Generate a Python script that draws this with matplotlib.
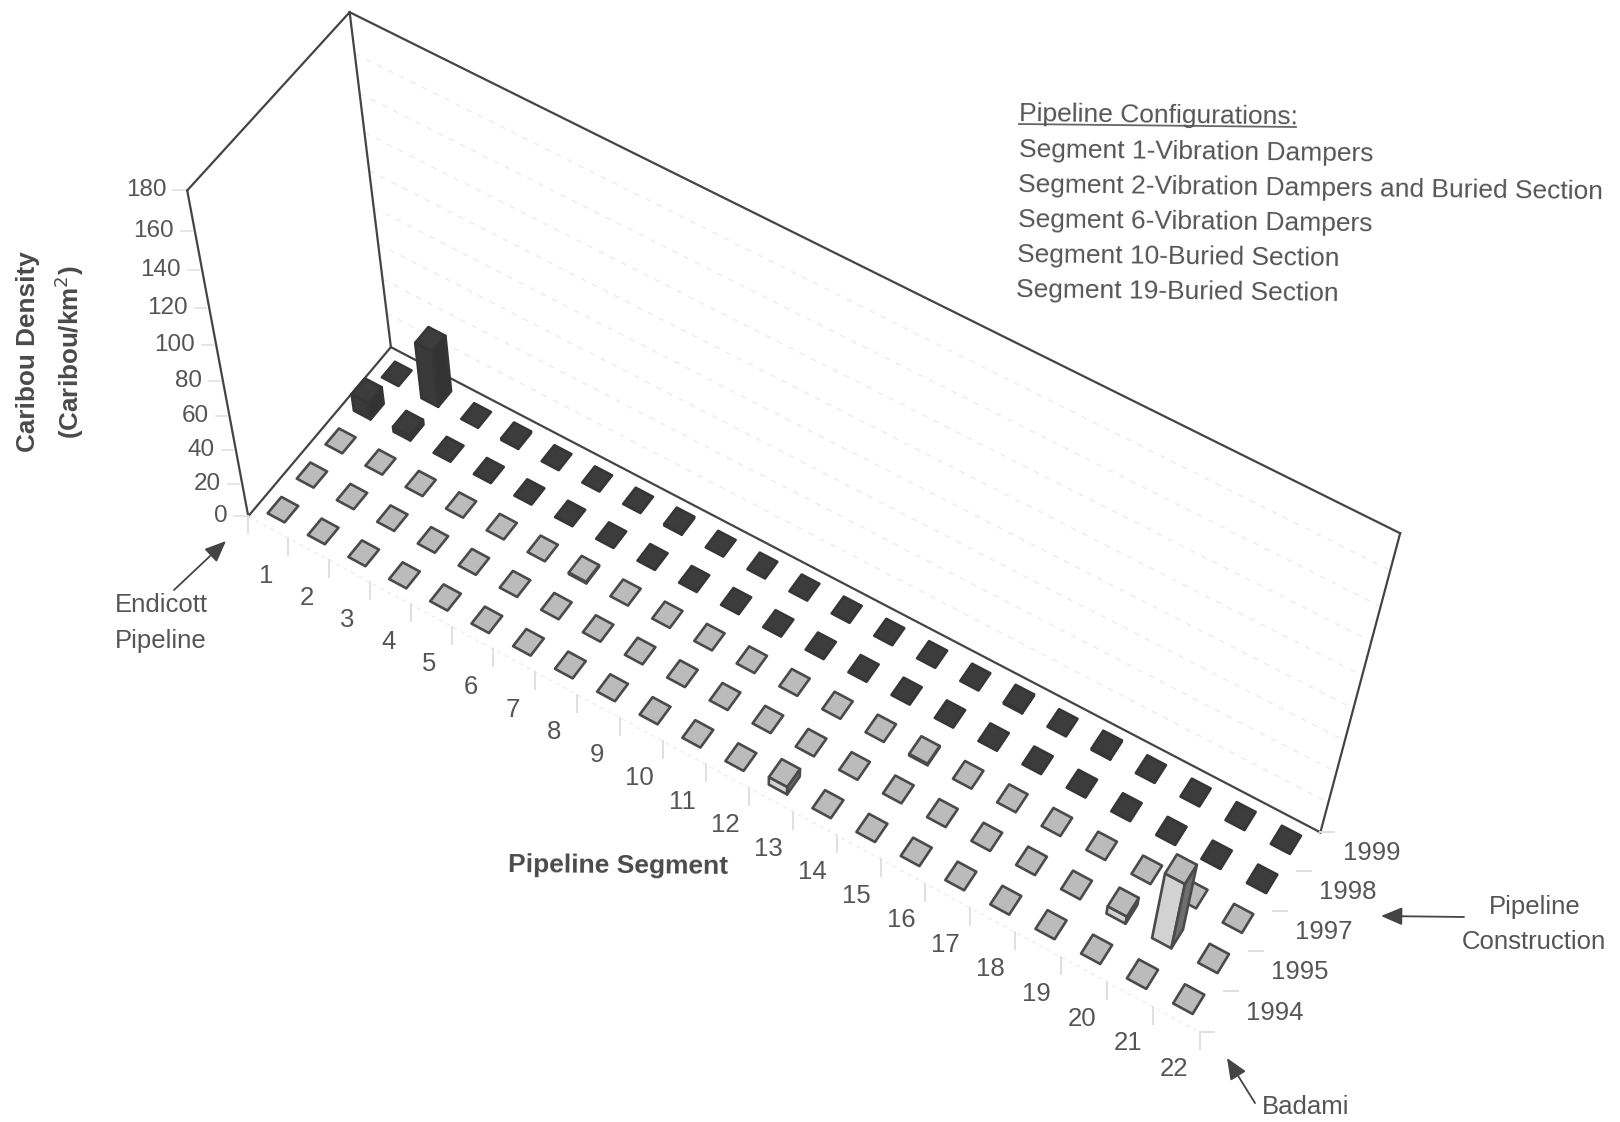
import matplotlib
matplotlib.use('Agg')
import matplotlib.pyplot as plt
import numpy as np

plt.rcParams['font.family'] = ['Liberation Sans', 'DejaVu Sans']

# Caribou density per pipeline segment (1-22), one list per survey year
segments = list(range(1, 23))
years = ['1994', '1995', '1997', '1998', '1999']
density_1994 = [0, 0, 0, 0, 0, 0, 0, 0, 0, 0, 0, 0, 5, 0, 0, 0, 0, 0, 0, 0, 0, 0]
density_1995 = [0, 0, 0, 0, 0, 0, 0, 0, 0, 0, 0, 0, 0, 0, 0, 0, 0, 0, 0, 5, 44, 0]
density_1997 = [0, 0, 0, 0, 0, 0, 1, 0, 0, 0, 0, 0, 0, 0, 1, 0, 0, 0, 0, 0, 0, 0]
density_1998 = [10, 3, 0, 0, 0, 0, 0, 0, 0, 0, 0, 0, 0, 0, 0, 0, 0, 0, 0, 0, 0, 0]
density_1999 = [0, 33, 0, 1, 0, 0, 0, 1, 0, 0, 0, 0, 0, 0, 0, 1, 0, 1, 0, 0, 0, 0]
density = [density_1994, density_1995, density_1997, density_1998, density_1999]
z_ticks = [0, 20, 40, 60, 80, 100, 120, 140, 160, 180]

config_title = 'Pipeline Configurations:'
config_lines = ['Segment 1-Vibration Dampers',
                'Segment 2-Vibration Dampers and Buried Section',
                'Segment 6-Vibration Dampers',
                'Segment 10-Buried Section',
                'Segment 19-Buried Section']

TEXT = '#555555'
LINE = '#444444'
FAINT = '#e0e0e0'
n_seg = len(segments)
n_year = len(years)
z_max = z_ticks[-1]


# Perspective camera solved from where the box corners sit on the page
def solve_camera():
    world = [(0, 0, 0), (n_seg, 0, 0), (n_seg, n_year, 0), (0, n_year, 0),
             (0, 0, z_max), (0, n_year, z_max), (n_seg, n_year, z_max), (0, 0, 80)]
    page = [(248, 516), (1199, 1033), (1321, 831), (391, 348),
            (188, 190), (349, 12), (1400, 534), (223, 381)]
    rows = []
    for (x, y, z), (u, v) in zip(world, page):
        rows.append([x, y, z, 1, 0, 0, 0, 0, -u * x, -u * y, -u * z, -u])
        rows.append([0, 0, 0, 0, x, y, z, 1, -v * x, -v * y, -v * z, -v])
    return np.linalg.svd(np.array(rows, dtype=float))[2][-1].reshape(3, 4)


camera = solve_camera()


def project(x, y, z):
    p = camera @ np.array([x, y, z, 1.0])
    return p[0] / p[2], p[1] / p[2]


def draw_line(ax, a, b, **kw):
    pa, pb = project(*a), project(*b)
    ax.plot([pa[0], pb[0]], [pa[1], pb[1]], **kw)


def draw_bar(ax, i, j, h, top, side, right, edge):
    wx, wy = 0.42, 0.47
    x0, x1 = i + 0.5 - wx / 2, i + 0.5 + wx / 2
    y0, y1 = j + 0.5 - wy / 2, j + 0.5 + wy / 2
    faces = []
    if h > 0:
        faces.append(([(x0, y0, 0), (x1, y0, 0), (x1, y0, h), (x0, y0, h)], side))
        faces.append(([(x1, y0, 0), (x1, y1, 0), (x1, y1, h), (x1, y0, h)], right))
    faces.append(([(x0, y0, h), (x1, y0, h), (x1, y1, h), (x0, y1, h)], top))
    for corners, color in faces:
        ax.fill(*zip(*[project(*c) for c in corners]), facecolor=color, edgecolor=edge,
                linewidth=1.9, joinstyle='round', zorder=5 + (n_year - j))


fig = plt.figure(figsize=(16.2, 11.22), dpi=100)
ax = fig.add_axes([0, 0, 1, 1])
ax.set_xlim(0, 1620)
ax.set_ylim(1122, 0)
ax.axis('off')

# back wall gridlines
for z in z_ticks[1:-1]:
    draw_line(ax, (0, n_year, z), (n_seg, n_year, z), color='#ececec',
              lw=1.0, ls=(0, (4, 5)))

# box outline
outline = [((0, 0, 0), (0, 0, z_max)), ((0, 0, z_max), (0, n_year, z_max)),
           ((0, n_year, z_max), (0, n_year, 0)), ((0, 0, 0), (0, n_year, 0)),
           ((0, n_year, 0), (n_seg, n_year, 0)), ((0, n_year, z_max), (n_seg, n_year, z_max)),
           ((n_seg, n_year, 0), (n_seg, n_year, z_max))]
for a, b in outline:
    draw_line(ax, a, b, color=LINE, lw=1.6)

# faint front edge and tick marks
draw_line(ax, (0, 0, 0), (n_seg, 0, 0), color='#eeeeee', lw=1.0, ls=(0, (3, 3)))
for i in range(n_seg + 1):
    u, v = project(i, 0, 0)
    ax.plot([u, u], [v, v + 17], color=FAINT, lw=1.4)
for j in range(n_year + 1):
    u, v = project(n_seg, j, 0)
    ax.plot([u, u + 14], [v, v], color=FAINT, lw=1.4)
for z in z_ticks:
    u, v = project(0, 0, z)
    ax.plot([u - 14, u - 3], [v, v], color=FAINT, lw=1.2)
    ax.text(u - 21, v, str(z), ha='right', va='center', fontsize=17.5, color=TEXT)

# bars, back row first so nearer ones cover them
for j in reversed(range(n_year)):
    for i in range(n_seg):
        if j >= 3:
            draw_bar(ax, i, j, density[j][i], '#3c3c3c', '#3a3a3a', '#333333', '#363636')
        else:
            draw_bar(ax, i, j, density[j][i], '#bbbbbb', '#d2d2d2', '#6e6e6e', '#4a4a4a')

for i, seg in enumerate(segments):
    u, v = project(i + 0.5, 0, 0)
    ax.text(u - 2, v + 49, str(seg), ha='center', va='center', fontsize=18.5, color=TEXT)
for j, year in enumerate(years):
    u, v = project(n_seg, j + 0.5, 0)
    ax.text(u + 63, v + 1, year, ha='center', va='center', fontsize=18.5, color=TEXT)

ax.text(28, 352, 'Caribou Density', rotation=90, ha='center', va='center',
        fontsize=18.8, fontweight='bold', color='#4a4a4a')
ax.text(69, 352, '(Caribou/km$^{2}$)', rotation=90, ha='center', va='center',
        fontsize=18.7, fontweight='bold', color='#4a4a4a', math_fontfamily='custom')
ax.text(618, 866, 'Pipeline Segment', ha='center', va='center', fontsize=19,
        fontweight='bold', rotation=-0.5, color='#4a4a4a')

# notes in the upper right, the scan sits slightly askew
tilt = -0.7
x0, y0 = 1019, 114
ax.text(x0, y0, config_title, fontsize=19, color=TEXT, ha='left', va='center',
        rotation=tilt, rotation_mode='anchor')
ax.plot([x0, x0 + 277], [y0 + 10, y0 + 13], color='#666666', lw=1.3)
for k, line in enumerate(config_lines):
    ax.text(x0 - k * 0.6, y0 + 36 + k * 35, line, fontsize=19, color=TEXT, ha='left',
            va='center', rotation=tilt, rotation_mode='anchor')

# callouts
arrow = dict(arrowstyle='-|>,head_length=1.3,head_width=0.55', color='#444444', lw=1.3,
             shrinkA=0, shrinkB=0)
ax.annotate('', xy=(226, 541), xytext=(174, 590), arrowprops=arrow)
ax.annotate('', xy=(1381, 916), xytext=(1464, 917), arrowprops=arrow)
ax.annotate('', xy=(1227, 1058), xytext=(1255, 1103), arrowprops=arrow)
ax.text(161, 605, 'Endicott', ha='center', va='center', fontsize=18.5, color=TEXT)
ax.text(161, 641, 'Pipeline', ha='center', va='center', fontsize=18.5, color=TEXT)
ax.text(1535, 907, 'Pipeline', ha='center', va='center', fontsize=18.5, color=TEXT)
ax.text(1534, 942, 'Construction', ha='center', va='center', fontsize=18.5, color=TEXT)
ax.text(1306, 1107, 'Badami', ha='center', va='center', fontsize=18.5, color=TEXT)

fig.savefig('out.png', dpi=100, facecolor='white')
